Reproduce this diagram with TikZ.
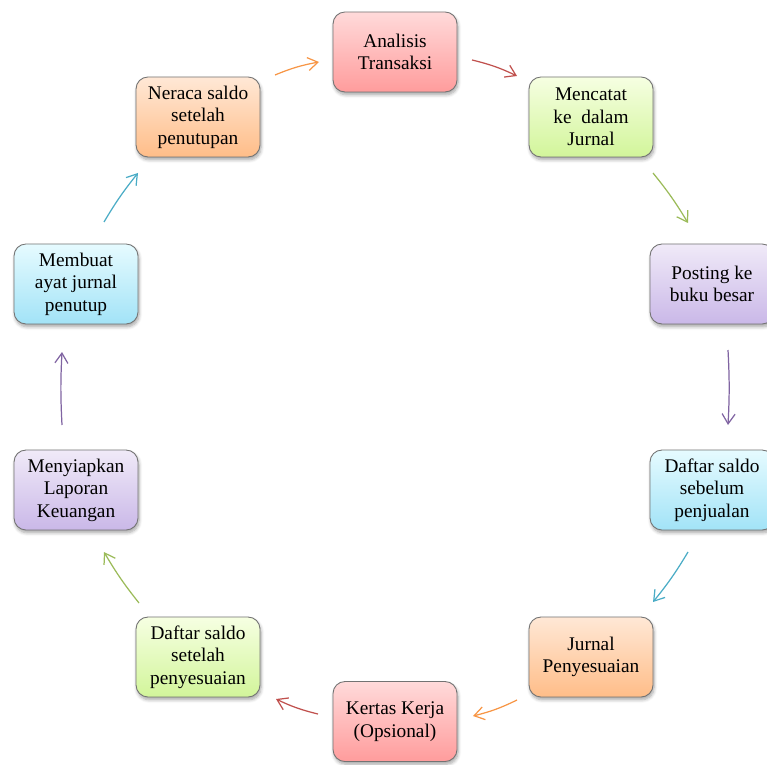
\documentclass[tikz,border=0pt]{standalone}
\usepackage{fontspec}
\setmainfont{Liberation Serif}
\usepackage{tikz}
\usetikzlibrary{arrows.meta,shadows.blur}
\definecolor{redtop}{HTML}{FFDADA}
\definecolor{redbot}{HTML}{FF9C9C}
\definecolor{grntop}{HTML}{F6FFE2}
\definecolor{grnbot}{HTML}{D2F59A}
\definecolor{purtop}{HTML}{F0EAF8}
\definecolor{purbot}{HTML}{CAB8E8}
\definecolor{blutop}{HTML}{E6FBFF}
\definecolor{blubot}{HTML}{A2E3F7}
\definecolor{orgtop}{HTML}{FFE8D6}
\definecolor{orgbot}{HTML}{FFBD88}
\definecolor{colred}{HTML}{C0504D}
\definecolor{colgrn}{HTML}{9BBB59}
\definecolor{colpur}{HTML}{8064A2}
\definecolor{colblu}{HTML}{4BACC6}
\definecolor{colorg}{HTML}{F79646}
\tikzset{
  stepbox/.style={draw=black!55, line width=0.5pt, rounded corners=0.24cm,
    minimum width=2.48cm, minimum height=1.6cm, align=center,
    font=\fontsize{11}{12.8}\selectfont, inner sep=1pt,
    blur shadow={shadow xshift=0.6pt, shadow yshift=-1.6pt, shadow blur steps=6, shadow opacity=35}},
  boxred/.style={stepbox, top color=redtop, bottom color=redbot},
  boxgrn/.style={stepbox, top color=grntop, bottom color=grnbot},
  boxpur/.style={stepbox, top color=purtop, bottom color=purbot},
  boxblu/.style={stepbox, top color=blutop, bottom color=blubot},
  boxorg/.style={stepbox, top color=orgtop, bottom color=orgbot},
  cyc/.style={line width=0.7pt, -{Straight Barb[length=2mm,width=2.6mm]}},
  cycred/.style={cyc, colred},
  cycgrn/.style={cyc, colgrn},
  cycpur/.style={cyc, colpur},
  cycblu/.style={cyc, colblu},
  cycorg/.style={cyc, colorg}
}

\begin{document}
\begin{tikzpicture}
\path[use as bounding box, clip] (0,0) rectangle (15.34,-15.28);

\node[boxred](ana) at (7.90,-1.04) {Analisis\\Transaksi};
\node[boxgrn](jur) at (11.82,-2.34) {Mencatat\\ke~ dalam\\Jurnal};
\node[boxpur](post) at (14.24,-5.68) {Posting ke\\buku besar};
\node[boxblu](dsb) at (14.24,-9.80) {Daftar saldo\\sebelum\\penjualan};
\node[boxorg](jp) at (11.82,-13.14) {Jurnal\\Penyesuaian};
\node[boxred](kk) at (7.90,-14.43) {Kertas Kerja\\(Opsional)};
\node[boxgrn](dsp) at (3.96,-13.14) {Daftar saldo\\setelah\\penyesuaian};
\node[boxpur](lap) at (1.52,-9.80) {Menyiapkan\\Laporan\\Keuangan};
\node[boxblu](tutup) at (1.52,-5.68) {Membuat\\ayat jurnal\\penutup};
\node[boxorg](ner) at (3.96,-2.34) {Neraca saldo\\setelah\\penutupan};

\coordinate (a1) at (9.44,-1.20);
\coordinate (b1) at (10.34,-1.52);
\coordinate (a2) at (13.06,-3.46);
\coordinate (b2) at (13.76,-4.46);
\coordinate (a3) at (14.56,-7.00);
\coordinate (b3) at (14.56,-8.50);
\coordinate (a4) at (13.76,-11.04);
\coordinate (b4) at (13.06,-12.04);
\coordinate (a5) at (10.34,-14.00);
\coordinate (b5) at (9.46,-14.32);
\coordinate (a6) at (6.36,-14.28);
\coordinate (b6) at (5.52,-13.98);
\coordinate (a7) at (2.78,-12.06);
\coordinate (b7) at (2.08,-11.04);
\coordinate (a8) at (1.24,-8.50);
\coordinate (b8) at (1.24,-7.04);
\coordinate (a9) at (2.08,-4.44);
\coordinate (b9) at (2.76,-3.46);
\coordinate (a10) at (5.50,-1.50);
\coordinate (b10) at (6.38,-1.24);

\draw[cycred] (a1) to[bend left=6] (b1);
\draw[cycgrn] (a2) to[bend left=4] (b2);
\draw[cycpur] (a3) to[bend left=3] (b3);
\draw[cycblu] (a4) to[bend left=4] (b4);
\draw[cycorg] (a5) to[bend left=6] (b5);
\draw[cycred] (a6) to[bend left=6] (b6);
\draw[cycgrn] (a7) to[bend left=4] (b7);
\draw[cycpur] (a8) to[bend left=3] (b8);
\draw[cycblu] (a9) to[bend left=4] (b9);
\draw[cycorg] (a10) to[bend left=6] (b10);
\end{tikzpicture}
\end{document}
